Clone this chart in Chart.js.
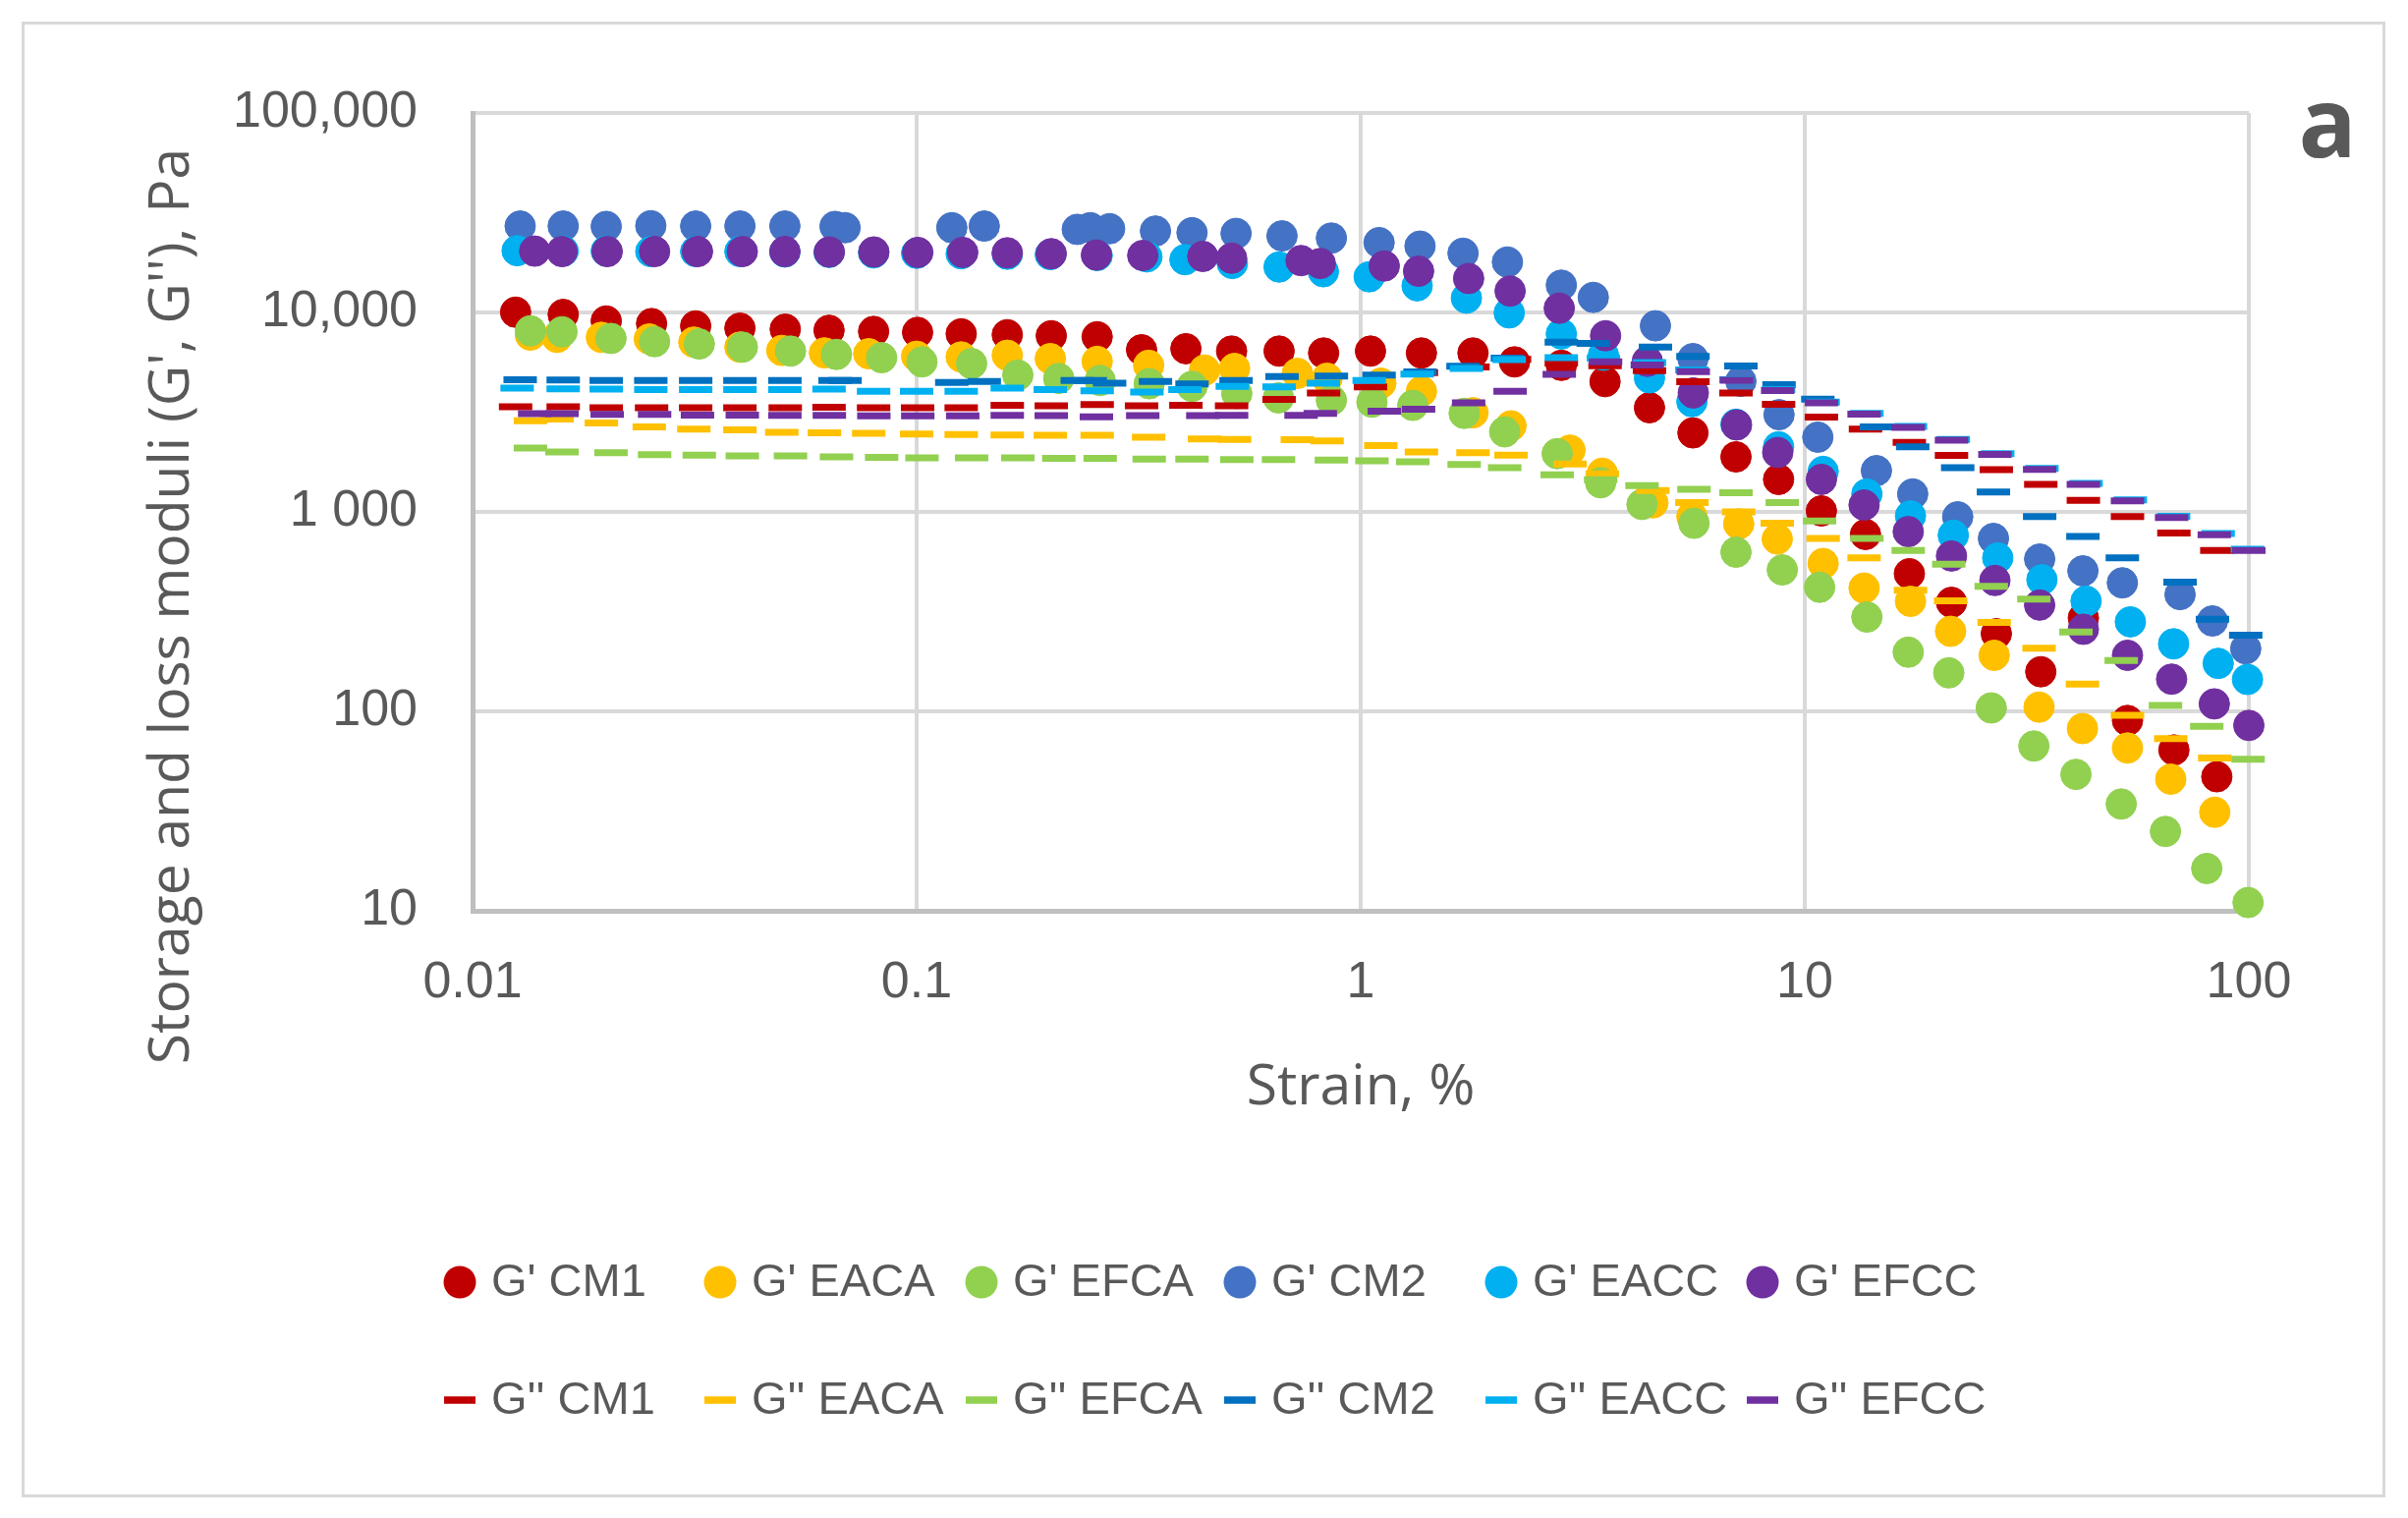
<!DOCTYPE html>
<html>
<head>
<meta charset="utf-8">
<title>Storage and loss moduli vs strain</title>
<script src="https://cdn.jsdelivr.net/npm/chart.js@4.4.0/dist/chart.umd.min.js"></script>
<style>
  html, body { margin: 0; padding: 0; background: #ffffff; }
  #chart { display: block; width: 2451px; height: 1545px; }
</style>
</head>
<body>
<canvas id="chart" width="2451" height="1545"></canvas>
<script>
// Axis ticks
const xTicks = [0.01, 0.1, 1, 10, 100];
const xTickLabels = ['0.01', '0.1', '1', '10', '100'];
const yTicks = [10, 100, 1000, 10000, 100000];
const yTickLabels = ['10', '100', '1 000', '10,000', '100,000'];

const samples = ['CM1', 'EACA', 'EFCA', 'CM2', 'EACC', 'EFCC'];

// Strain (%) per sample
const strainCM1 = [0.0125, 0.016, 0.02, 0.0253, 0.0318, 0.04, 0.0506, 0.0635, 0.08, 0.1005, 0.126, 0.16, 0.201, 0.255, 0.321, 0.404, 0.512, 0.655, 0.825, 1.052, 1.37, 1.79, 2.22, 2.83, 3.55, 4.47, 5.6, 7.0, 8.73, 10.9, 13.7, 17.2, 21.4, 27, 34, 42.4, 53.3, 67.8, 84.7];
const strainEACA = [0.0135, 0.0155, 0.0195, 0.025, 0.0315, 0.04, 0.0497, 0.062, 0.078, 0.1, 0.126, 0.16, 0.2, 0.255, 0.333, 0.445, 0.52, 0.72, 0.84, 1.11, 1.37, 1.79, 2.18, 2.96, 3.5, 4.55, 5.57, 7.1, 8.67, 11, 13.6, 17.3, 21.3, 26.7, 33.7, 42.2, 53.3, 66.7, 83.8];
const strainEFCA = [0.0135, 0.0159, 0.0205, 0.0257, 0.0324, 0.0405, 0.052, 0.066, 0.0834, 0.1028, 0.133, 0.169, 0.209, 0.259, 0.334, 0.417, 0.526, 0.653, 0.859, 1.06, 1.31, 1.71, 2.11, 2.77, 3.47, 4.3, 5.63, 7.0, 8.9, 10.8, 13.8, 17.1, 21.1, 26.3, 32.8, 40.8, 51.6, 64.9, 80.4, 99.6];
const strainCM2 = [0.0128, 0.016, 0.02, 0.0252, 0.0318, 0.04, 0.0505, 0.0655, 0.069, 0.12, 0.142, 0.23, 0.246, 0.272, 0.345, 0.417, 0.524, 0.665, 0.859, 1.10, 1.36, 1.70, 2.14, 2.83, 3.34, 4.61, 5.6, 7.18, 8.75, 10.7, 14.5, 17.5, 22.1, 26.6, 33.8, 42.3, 51.9, 70, 82.8, 98.4];
const strainEACC = [0.0126, 0.016, 0.02, 0.0252, 0.0318, 0.04, 0.0505, 0.0635, 0.08, 0.1, 0.126, 0.16, 0.2, 0.255, 0.33, 0.402, 0.514, 0.655, 0.824, 1.045, 1.34, 1.73, 2.16, 2.83, 3.52, 4.47, 5.57, 7.0, 8.73, 11, 13.8, 17.3, 21.6, 27.2, 34.2, 43, 54.1, 67.7, 85.3, 99.3];
const strainEFCC = [0.0138, 0.0159, 0.0201, 0.0257, 0.0321, 0.0405, 0.0505, 0.0636, 0.0801, 0.1006, 0.127, 0.16, 0.201, 0.254, 0.323, 0.441, 0.512, 0.734, 0.811, 1.13, 1.35, 1.75, 2.17, 2.80, 3.56, 4.42, 5.61, 7.02, 8.69, 10.9, 13.6, 17.1, 21.4, 26.8, 33.8, 42.4, 53.3, 67, 83.6, 100];

// Storage modulus G' (Pa)
const gStorageCM1 = [10030, 9770, 9060, 8790, 8560, 8340, 8240, 8140, 8030, 7940, 7810, 7730, 7640, 7550, 6500, 6580, 6400, 6400, 6260, 6400, 6260, 6260, 5650, 5430, 4500, 3330, 2490, 1888, 1455, 1012, 771, 490, 352, 245, 158, 294, 90, 64, 47];
const gStorageEACA = [7700, 7500, 7500, 7360, 7100, 6700, 6450, 6270, 6210, 6030, 5980, 6100, 5870, 5680, 5430, 5140, 5240, 4950, 4680, 4420, 4020, 3140, 2700, 2040, 1563, 1110, 948, 871, 731, 551, 415, 356, 252, 191, 105, 82, 65.5, 45.7, 31.2];
const gStorageEFCA = [8090, 8000, 7410, 7140, 6950, 6700, 6400, 6160, 5930, 5650, 5540, 4850, 4670, 4560, 4390, 4260, 3920, 3730, 3630, 3550, 3420, 3120, 2520, 1960, 1400, 1090, 877, 628, 512, 419, 297, 198, 156, 104, 67, 48.3, 34.3, 25, 16.3, 11];
const gStorageCM2 = [27100, 27100, 27000, 27200, 27100, 27100, 27100, 27000, 26600, 26600, 27100, 26100, 26600, 26300, 25600, 25100, 24900, 24200, 23600, 22400, 21500, 19800, 17900, 13700, 11900, 8570, 5870, 4520, 3070, 2370, 1610, 1230, 945, 736, 580, 506, 441, 385, 284, 206];
const gStorageEACC = [20400, 20300, 20300, 20200, 20200, 20200, 20100, 20000, 19900, 19800, 19700, 19600, 19500, 19300, 19000, 18400, 17600, 16900, 16000, 15100, 13600, 11800, 9950, 7800, 6100, 4700, 3570, 2750, 2120, 1595, 1230, 955, 764, 588, 457, 357, 281, 218, 174, 144.5];
const gStorageEFCC = [20300, 20200, 20200, 20200, 20200, 20200, 20200, 20100, 20100, 20000, 20000, 19900, 19700, 19400, 19300, 19100, 18700, 18200, 17600, 17100, 16100, 14800, 12800, 10500, 7640, 5690, 3950, 2730, 1985, 1455, 1082, 796, 601, 453, 341, 258, 191, 145, 109, 85];

// Loss modulus G'' (Pa)
const gLossCM1 = [3370, 3370, 3330, 3330, 3330, 3330, 3330, 3350, 3330, 3330, 3330, 3420, 3400, 3450, 3400, 3420, 3400, 3660, 3950, 4230, 4990, 5330, 5810, 5580, 5400, 5100, 4500, 3950, 3460, 2990, 2600, 2230, 1920, 1627, 1372, 1143, 948, 783, 641];
const gLossEACA = [2860, 2920, 2790, 2670, 2600, 2580, 2505, 2490, 2480, 2460, 2440, 2430, 2420, 2420, 2370, 2320, 2310, 2300, 2270, 2150, 2000, 1980, 1925, 1738, 1550, 1280, 1114, 1000, 877, 736, 588, 405, 358, 279, 207, 137, 95.5, 73, 58.3];
const gLossEFCA = [2090, 2000, 1980, 1935, 1925, 1910, 1910, 1890, 1875, 1868, 1868, 1868, 1855, 1855, 1838, 1838, 1832, 1832, 1820, 1805, 1783, 1730, 1667, 1535, 1450, 1355, 1298, 1248, 1114, 900, 736, 641, 546, 424, 365, 250, 180, 107, 84, 57.5];
const gLossCM2 = [4600, 4580, 4560, 4560, 4560, 4560, 4560, 4560, 4560, 4460, 4510, 4560, 4560, 4420, 4510, 4380, 4560, 4770, 4800, 4850, 5040, 5380, 5900, 7100, 7000, 6700, 6020, 5390, 4340, 3680, 2670, 2120, 1667, 1259, 948, 753, 588, 444, 290, 241];
const gLossEACC = [4180, 4140, 4130, 4100, 4100, 4100, 4100, 4130, 4020, 4020, 4020, 4180, 4100, 4050, 3990, 4100, 4260, 4230, 4420, 4560, 4910, 5240, 5800, 5930, 5900, 5600, 5150, 4600, 4100, 3550, 3120, 2680, 2310, 1960, 1650, 1390, 1150, 950, 780, 650];
const gLossEFCC = [3110, 3110, 3080, 3080, 3060, 3060, 3050, 3050, 3030, 3030, 3030, 3050, 3040, 3000, 3040, 3040, 3050, 3050, 3120, 3200, 3270, 3520, 4020, 4900, 5650, 5450, 5050, 4570, 4060, 3520, 3090, 2650, 2290, 1940, 1632, 1372, 1137, 936, 769, 641];

const storageColors = ['#C00000', '#FFC000', '#92D050', '#4472C4', '#00B0F0', '#7030A0'];
const lossColors = ['#C00000', '#FFC000', '#92D050', '#0070C0', '#00B0F0', '#7030A0'];

const strains = [strainCM1, strainEACA, strainEFCA, strainCM2, strainEACC, strainEFCC];
const storage = [gStorageCM1, gStorageEACA, gStorageEFCA, gStorageCM2, gStorageEACC, gStorageEFCC];
const loss = [gLossCM1, gLossEACA, gLossEFCA, gLossCM2, gLossEACC, gLossEFCC];

const textColor = '#595959';
const numFont = '"Liberation Sans", Arial, sans-serif';
const titleFont = '"Open Sans", "Noto Sans", sans-serif';

function toPoints(xs, ys) {
    return xs.map((x, i) => ({ x: x, y: ys[i] }));
}

// Build datasets: G' as filled circles, G'' as short dashes
const datasets = [];
samples.forEach((s, i) => {
    datasets.push({
        label: "G' " + s,
        data: toPoints(strains[i], storage[i]),
        pointStyle: 'circle',
        pointRadius: 15.5,
        pointHoverRadius: 15.5,
        backgroundColor: storageColors[i],
        borderColor: storageColors[i],
        borderWidth: 1,
        kind: 'circle'
    });
});
samples.forEach((s, i) => {
    datasets.push({
        label: "G'' " + s,
        data: toPoints(strains[i], loss[i]),
        pointStyle: 'line',
        pointRadius: 17,
        pointHoverRadius: 17,
        backgroundColor: lossColors[i],
        borderColor: lossColors[i],
        borderWidth: 7,
        kind: 'dash'
    });
});
// later series are painted on top, like the original
datasets.forEach((d, i) => {
    d.order = datasets.length - i;
    d.showLine = false;
    d.clip = false;
});

// Background, frame, titles, legend and panel letter
const decorPlugin = {
    id: 'decor',
    beforeDraw(chart) {
        const ctx = chart.ctx;
        ctx.save();
        ctx.fillStyle = '#ffffff';
        ctx.fillRect(0, 0, chart.width, chart.height);
        ctx.strokeStyle = '#d9d9d9';
        ctx.lineWidth = 3;
        ctx.strokeRect(23.5, 23.5, 2403, 1499);
        ctx.restore();
    },
    afterDraw(chart) {
        const ctx = chart.ctx;
        const area = chart.chartArea;
        ctx.save();
        ctx.fillStyle = textColor;

        // y axis title
        ctx.font = '57px ' + titleFont;
        ctx.textAlign = 'center';
        ctx.textBaseline = 'middle';
        ctx.save();
        ctx.translate(176, 617);
        ctx.rotate(-Math.PI / 2);
        ctx.fillText("Storage and loss moduli (G', G''), Pa", 0, 0);
        ctx.restore();

        // x axis title
        ctx.textBaseline = 'alphabetic';
        ctx.fillText('Strain, %', (area.left + area.right) / 2, 1124);

        // panel letter
        ctx.font = 'bold 98px ' + titleFont;
        ctx.fillText('a', 2369, 160);

        // legend, two rows of six
        const colX = [468, 733, 999, 1262, 1528, 1794];
        const rowY = [1305, 1425];
        ctx.font = '47px ' + numFont;
        ctx.textAlign = 'left';
        ctx.textBaseline = 'middle';
        chart.data.datasets.forEach((d, i) => {
            const cx = colX[i % 6];
            const cy = rowY[Math.floor(i / 6)];
            ctx.fillStyle = d.backgroundColor;
            if (d.kind === 'circle') {
                ctx.beginPath();
                ctx.arc(cx, cy, 16.5, 0, Math.PI * 2);
                ctx.fill();
            } else {
                ctx.fillRect(cx - 16, cy - 3.75, 32, 7.5);
            }
            ctx.fillStyle = textColor;
            ctx.fillText(d.label, cx + 32, cy + 1);
        });
        ctx.restore();
    }
};

const ctx = document.getElementById('chart').getContext('2d');
const chart = new Chart(ctx, {
    type: 'scatter',
    data: { datasets: datasets },
    options: {
        responsive: false,
        devicePixelRatio: 1,
        animation: false,
        events: [],
        layout: {
            padding: { left: 0, top: 115, right: 162, bottom: 0 }
        },
        plugins: {
            legend: { display: false },
            tooltip: { enabled: false }
        },
        scales: {
            x: {
                type: 'logarithmic',
                min: 0.01,
                max: 100,
                afterBuildTicks: scale => {
                    scale.ticks = xTicks.map(v => ({ value: v }));
                },
                afterFit: scale => {
                    scale.height = 618;
                },
                ticks: {
                    callback: (value, index) => xTickLabels[index],
                    font: { family: numFont, size: 52 },
                    color: textColor,
                    padding: 42,
                    maxRotation: 0,
                    autoSkip: false
                },
                grid: {
                    color: c => (c.index === 0 ? 'rgba(0,0,0,0)' : '#d9d9d9'),
                    lineWidth: 4,
                    drawTicks: false
                },
                border: { color: '#bfbfbf', width: 5 }
            },
            y: {
                type: 'logarithmic',
                min: 10,
                max: 100000,
                afterBuildTicks: scale => {
                    scale.ticks = yTicks.map(v => ({ value: v }));
                },
                afterFit: scale => {
                    scale.width = 481;
                },
                ticks: {
                    callback: (value, index) => yTickLabels[index],
                    font: { family: numFont, size: 52 },
                    color: textColor,
                    padding: 56,
                    autoSkip: false
                },
                grid: {
                    color: c => (c.index === 0 ? 'rgba(0,0,0,0)' : '#d9d9d9'),
                    lineWidth: 4,
                    drawTicks: false
                },
                border: { color: '#bfbfbf', width: 5 }
            }
        }
    },
    plugins: [decorPlugin]
});
</script>
</body>
</html>
